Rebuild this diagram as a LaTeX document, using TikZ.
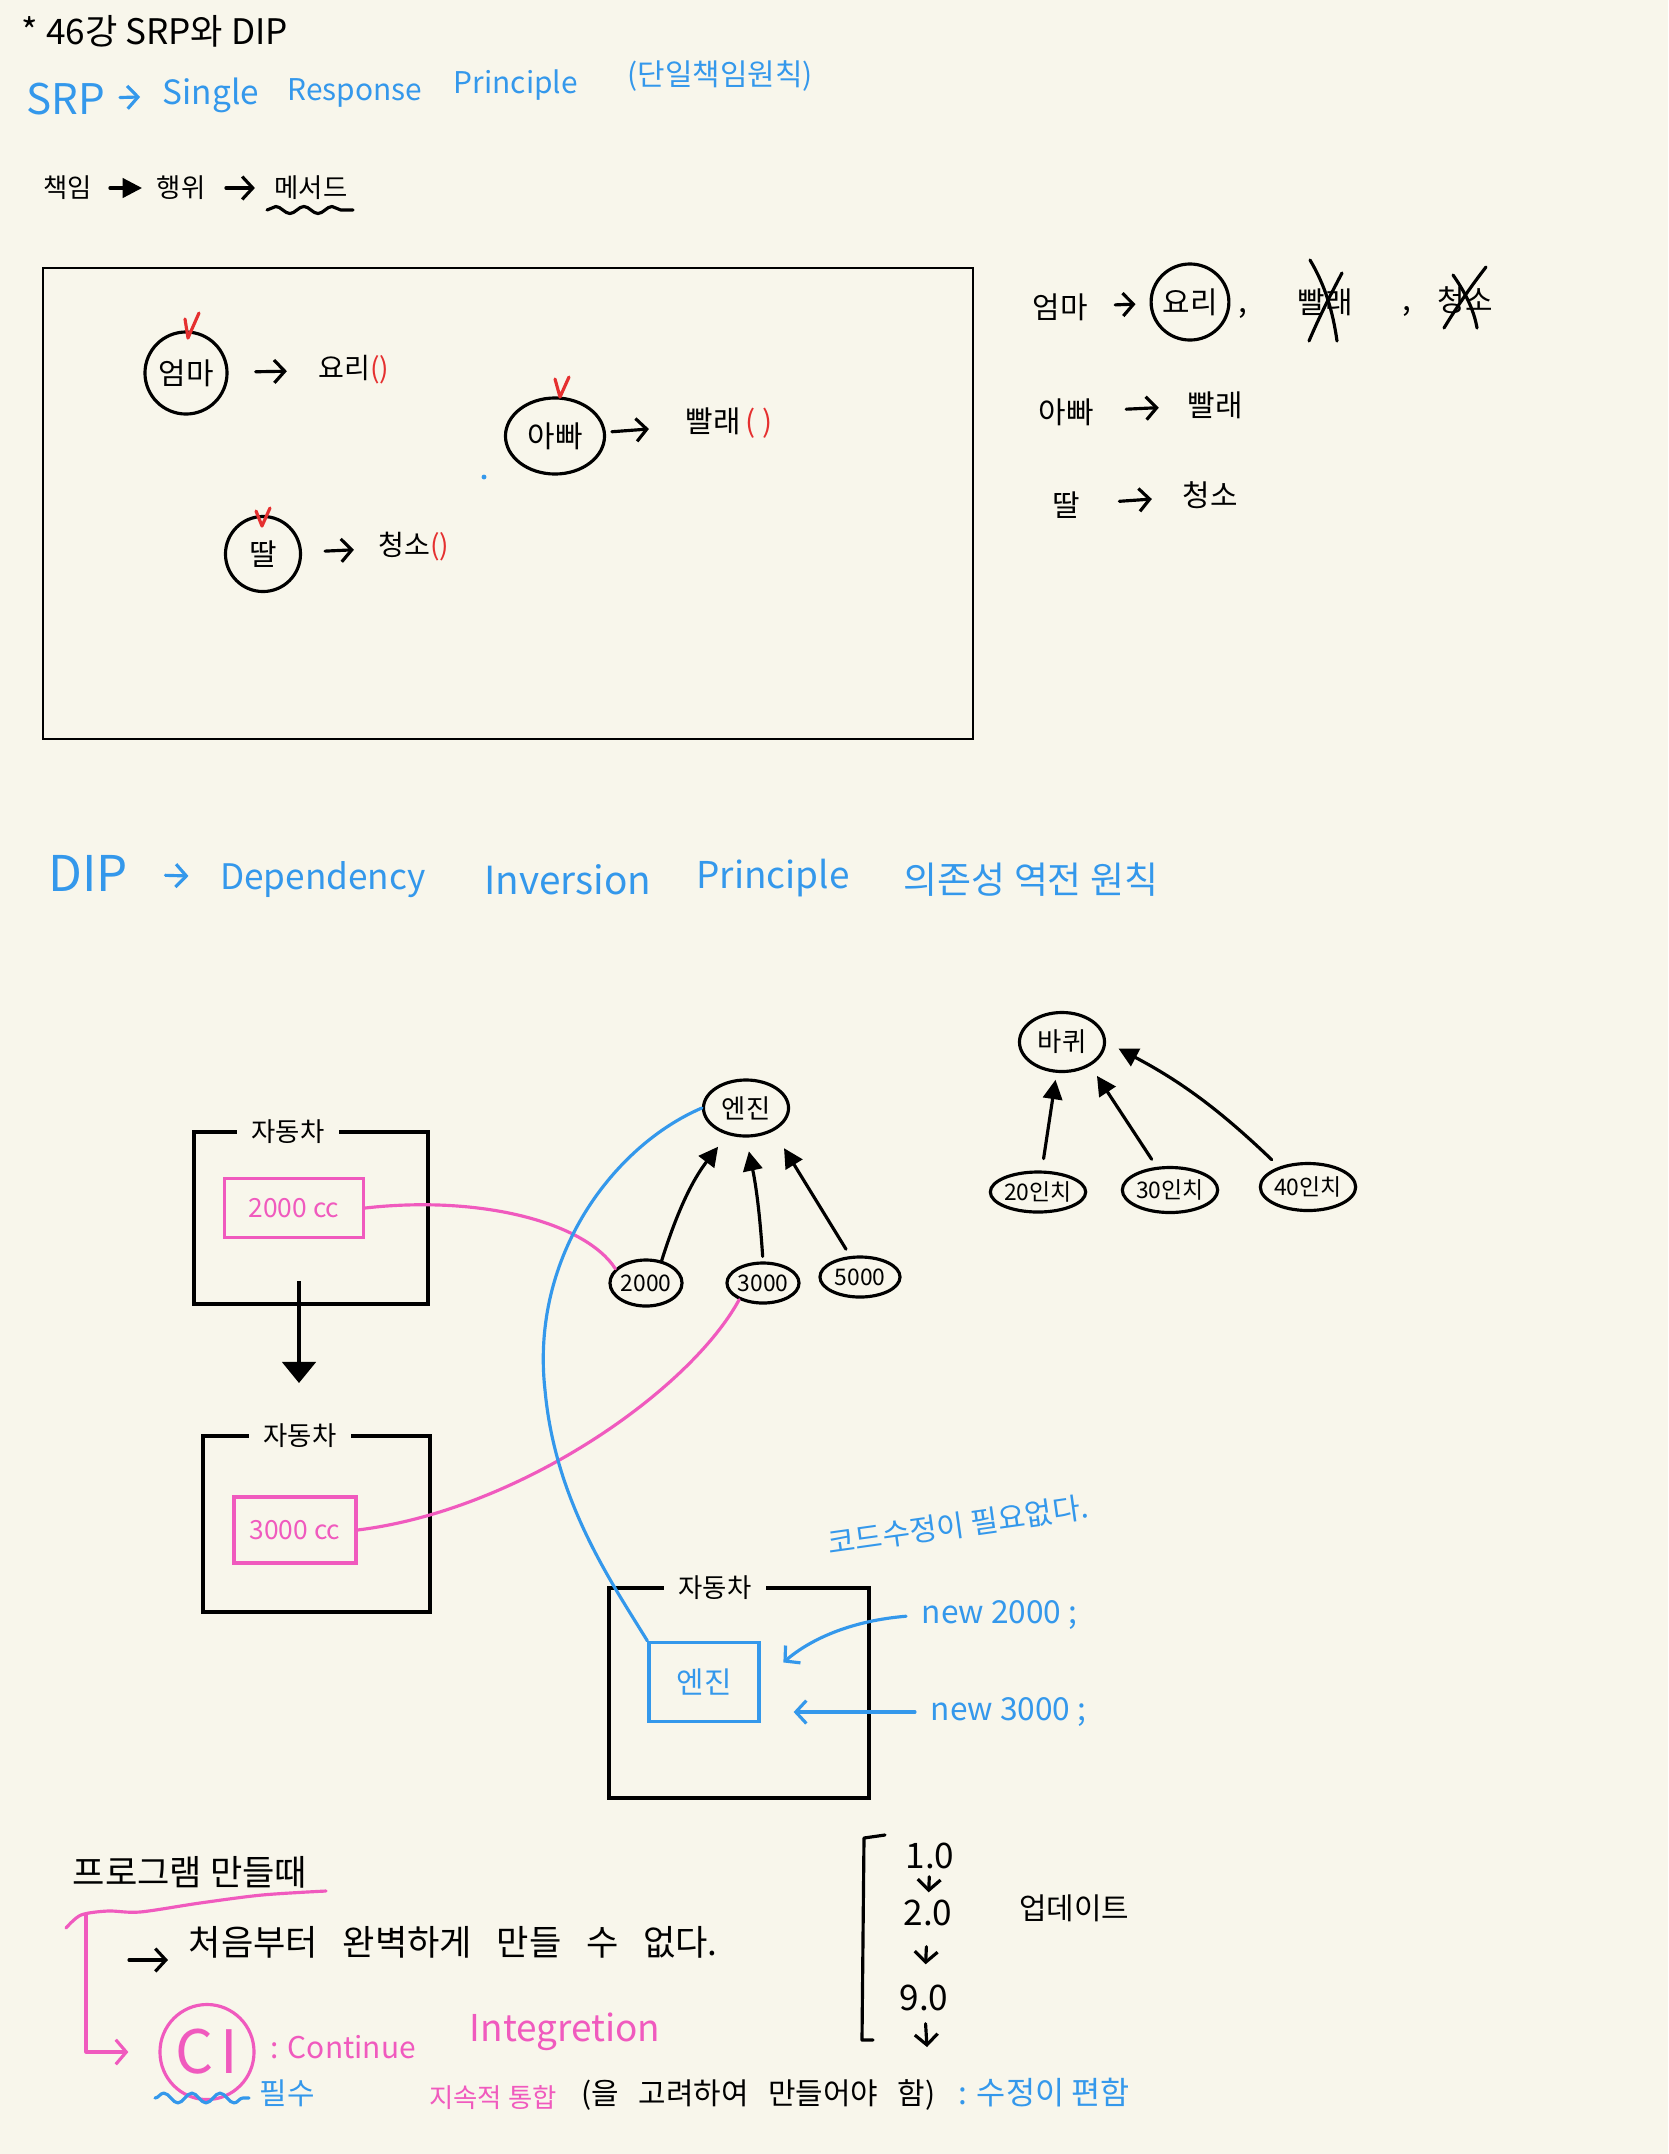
\documentclass[tikz,border=0pt]{standalone}
\usepackage{fontspec}
\setmainfont{Noto Sans CJK KR}
\setsansfont{Noto Sans CJK KR}
\usetikzlibrary{arrows.meta,shapes.geometric,decorations.pathmorphing}
\definecolor{paper}{HTML}{F8F6EB}
\definecolor{penblue}{HTML}{3498EB}
\definecolor{penpink}{HTML}{F05ABE}
\definecolor{penred}{HTML}{E53030}

\begin{document}
\begin{tikzpicture}[x=0.01cm, y=-0.01cm,
    txt/.style={inner sep=0pt, font=\fontsize{#1pt}{#1pt}\selectfont},
    txt/.default=9,
    pen/.style={line width=0.9pt, line cap=round, line join=round},
    ring/.style={ellipse, draw, line width=0.9pt, inner sep=0pt},
    barb/.style={pen, -{Straight Barb[length=3pt,width=6.5pt]}},
    tri/.style={pen, -{Triangle[length=5.5pt,width=5.5pt]}},
    carbox/.style={line width=1.1pt, line join=miter},
    pinkbox/.style={draw=penpink, line width=0.9pt, text=penpink},
    bluebox/.style={draw=penblue, line width=0.9pt, text=penblue},
    pinkline/.style={pen, draw=penpink},
    blueline/.style={pen, draw=penblue},
    check/.style={pen, draw=penred},
    wave/.style={pen, decorate, decoration={snake, amplitude=#1, segment length=8pt}},
    wave/.default=1pt,
  ]
    % paper and frame of the page
        \fill[paper] (0,0) rectangle (1668,2154);
        \useasboundingbox (0,0) rectangle (1668,2154);

    % First, the heading lines
        \node[txt=10, anchor=west] (title) at (21,31) {* 46강 SRP와 DIP};
        \node[txt=12, text=penblue] (srp) at (66,99) {SRP};
        \node[txt=9.5, text=penblue] (single) at (211,95) {Single};
        \node[txt=8.5, text=penblue] (resp) at (355,93) {Response};
        \node[txt=8.5, text=penblue] (princ) at (516,85) {Principle};
        \node[txt=8.5, text=penblue] (srpko) at (720,76) {(단일책임원칙)};
        \draw[barb, draw=penblue, shorten <=0.14cm, shorten >=0.22cm] (srp) -- (single);

        \node[txt=7.5] (duty) at (68,188) {책임};
        \node[txt=7.5] (act) at (181,188) {행위};
        \node[txt=7.5] (method) at (311,188) {메서드};
        \draw[tri, shorten <=0.17cm, shorten >=0.14cm] (duty) -- (act);
        \draw[barb, shorten <=0.2cm, shorten >=0.19cm] (act) -- (method);
        \draw[wave] (267,210) -- (353,210);

    % The SRP box and who does what
        \draw[line width=0.8pt] (43,268) rectangle (973,739);
        \node[ring, txt=8.5, minimum width=0.82cm, minimum height=0.82cm] (mom) at (186,373) {엄마};
        \node[ring, txt=8.5, minimum width=0.99cm, minimum height=0.76cm] (dad) at (555,436) {아빠};
        \node[ring, txt=8.5, minimum width=0.75cm, minimum height=0.75cm] (girl) at (263,554) {딸};
        \node[txt=8] (cook) at (354,370) {요리\textcolor{penred}{()}};
        \node[txt=8.5] (wash) at (729,423) {빨래\,\textcolor{penred}{( )}};
        \node[txt=8] (clean) at (414,547) {청소\textcolor{penred}{()}};
        \draw[barb, shorten <=0.27cm, shorten >=0.31cm] (mom) -- (cook);
        \draw[barb, shorten <=0.06cm, shorten >=0.36cm] (dad) -- (wash);
        \draw[barb, shorten <=0.23cm, shorten >=0.24cm] (girl) -- (clean);
        \draw[check] (185,319) -- (188,338) -- (199,313);
        \draw[check] (555,379) -- (560,397) -- (569,377);
        \draw[check] (256,511) -- (262,526) -- (270,508);
        \fill[penblue] (484,477) circle[radius=0.7pt];

    % The list on the right
        \node[txt=8.5] (mom2) at (1060,307) {엄마};
        \node[ring, txt=8.5, minimum width=0.75cm, minimum height=0.76cm] (cook2) at (1190,302) {요리};
        \node[txt=9] (comma1) at (1243,314) {,};
        \node[txt=8.5] (wash1) at (1325,302) {빨래};
        \node[txt=9] (comma2) at (1407,312) {,};
        \node[txt=8.5] (clean1) at (1465,300) {청소};
        \draw[barb, shorten <=0.27cm, shorten >=0.14cm] (mom2) -- (cook2);
        \draw[pen] (1309,341) .. controls (1320,315) and (1332,292) .. (1342,273);
        \draw[pen] (1310,260) .. controls (1325,285) and (1333,312) .. (1337,341);
        \draw[pen] (1444,328) .. controls (1458,305) and (1472,285) .. (1486,267);
        \draw[pen] (1453,275) .. controls (1465,292) and (1474,310) .. (1477,328);

        \node[txt=8.5] (dad2) at (1066,412) {아빠};
        \node[txt=8.5] (wash2) at (1215,405) {빨래};
        \draw[barb, shorten <=0.32cm, shorten >=0.28cm] (dad2) -- (wash2);
        \node[txt=8.5] (girl2) at (1066,505) {딸};
        \node[txt=8.5] (clean2) at (1210,495) {청소};
        \draw[barb, shorten <=0.39cm, shorten >=0.3cm] (girl2) -- (clean2);

    % DIP heading
        \node[txt=14, text=penblue] (dip) at (88,873) {DIP};
        \node[txt=10, text=penblue] (dep) at (323,880) {Dependency};
        \node[txt=11, text=penblue] (inv) at (568,880) {Inversion};
        \node[txt=10.5, text=penblue] (princ2) at (773,878) {Principle};
        \node[txt=10.5, text=penblue] (dipko) at (1031,880) {의존성 역전 원칙};
        \draw[barb, draw=penblue, shorten <=0.37cm, shorten >=0.31cm] (dip) -- (dep);

    % The cars
        \node[txt=7.5] (car1) at (288,1132) {자동차};
        \draw[carbox] ([xshift=-4pt]car1.west) -- (194,1132) -- (194,1304) -- (428,1304) -- (428,1132) -- ([xshift=4pt]car1.east);
        \node[pinkbox, txt=7.5, minimum width=1.39cm, minimum height=0.59cm] (cc2000) at (294,1208) {2000 cc};
        \coordinate (down1) at (299,1281);
        \coordinate (down2) at (299,1383);
        \draw[line width=1.1pt, -{Triangle[length=6pt,width=9.5pt]}] (down1) -- (down2);

        \node[txt=7.5] (car2) at (300,1436) {자동차};
        \draw[carbox] ([xshift=-4pt]car2.west) -- (203,1436) -- (203,1612) -- (430,1612) -- (430,1436) -- ([xshift=4pt]car2.east);
        \node[pinkbox, txt=7.5, minimum width=1.22cm, minimum height=0.66cm] (cc3000) at (295,1530) {3000 cc};

        \node[txt=7.5] (car3) at (715,1588) {자동차};
        \draw[carbox] ([xshift=-4pt]car3.west) -- (609,1588) -- (609,1798) -- (869,1798) -- (869,1588) -- ([xshift=4pt]car3.east);
        \node[bluebox, txt=8.5, minimum width=1.10cm, minimum height=0.79cm] (ebox) at (704,1682) {엔진};

    % engine and its kinds
        \node[ring, txt=7.5, minimum width=0.85cm, minimum height=0.56cm] (engine) at (746,1108) {엔진};
        \node[ring, txt=6.5, minimum width=0.72cm, minimum height=0.46cm] (e2000) at (646,1283) {2000};
        \node[ring, txt=6.5, minimum width=0.72cm, minimum height=0.40cm] (e3000) at (763,1283) {3000};
        \node[ring, txt=6.5, minimum width=0.80cm, minimum height=0.40cm] (e5000) at (860,1277) {5000};
        \draw[tri, shorten >=0.15cm] (e2000.55) to[bend left=10] (engine.235);
        \draw[tri, shorten <=0.05cm, shorten >=0.14cm] (e3000.north) to[bend right=4] (engine.south);
        \draw[tri, shorten <=0.08cm, shorten >=0.2cm] (e5000.115) -- (engine.320);

    % wheel and its kinds
        \node[ring, txt=7.5, minimum width=0.85cm, minimum height=0.59cm] (wheel) at (1062,1042) {바퀴};
        \node[ring, txt=6.5, minimum width=0.89cm, minimum height=0.40cm] (w20) at (1038,1192) {20인치};
        \node[ring, txt=6.5, minimum width=0.90cm, minimum height=0.45cm] (w30) at (1170,1190) {30인치};
        \node[ring, txt=6.5, minimum width=0.93cm, minimum height=0.47cm] (w40) at (1308,1187) {40인치};
        \draw[tri, shorten <=0.12cm, shorten >=0.07cm] (w20.80) -- (wheel.260);
        \draw[tri, shorten <=0.09cm, shorten >=0.12cm] (w30.120) -- (wheel.320);
        \draw[tri, shorten <=0.1cm, shorten >=0.14cm] (w40.145) to[bend right=8] (wheel.east);

    % Now draw the wires:
        \draw[pinkline] (cc2000.east) .. controls (480,1195) and (585,1222) .. (e2000.155);
        \draw[pinkline] (e3000.215) .. controls (690,1390) and (520,1510) .. (cc3000.east);
        \draw[blueline] (engine.west) .. controls (615,1145) and (530,1255) .. (545,1390)
            .. controls (555,1500) and (610,1580) .. (ebox.north west);

    % injecting the engine
        \node[txt=8.5, text=penblue, rotate=8] (nofix) at (958,1525) {코드수정이 필요없다.};
        \node[txt=9, text=penblue, anchor=west] (new2000) at (921,1615) {new 2000 ;};
        \node[txt=9, text=penblue, anchor=west] (new3000) at (930,1712) {new 3000 ;};
        \draw[barb, draw=penblue, shorten <=0.15cm, shorten >=0.3cm] (new2000.west) to[bend right=18] (ebox.east);
        \draw[barb, draw=penblue, shorten <=0.15cm, shorten >=0.33cm] (new3000.west) -- (ebox.east |- new3000.west);

    % making a program
        \node[txt=10] (prog) at (190,1872) {프로그램 만들때};
        \draw[pinkline] plot[smooth] coordinates {(66,1928) (81,1915) (108,1911) (140,1912) (200,1903) (262,1895) (326,1891)};
        \node[txt=10, anchor=west] (never) at (188,1942) {\spaceskip=0.7em\relax 처음부터 완벽하게 만들 수 없다.};
        \coordinate (nv0) at (129,1960);
        \draw[barb, shorten >=0.2cm] (nv0) -- (never.west |- nv0);

        \node[ring, draw=penpink, text=penpink, txt=17, minimum width=0.94cm, minimum height=0.95cm] (ci) at (207,2052) {C\kern2pt I};
        \coordinate (brk) at (86,1914);
        \draw[pinkline, -{Straight Barb[length=3pt,width=7pt]}, shorten >=0.3cm] (brk) |- (ci.west);
        \node[txt=8.5, text=penpink, anchor=west] (cont) at (270,2047) {: Continue};
        \node[txt=10.5, text=penpink] (integ) at (565,2032) {Integretion};
        \draw[wave=1.4pt, draw=penblue] (155,2098) -- (249,2098);
        \node[txt=8.5, text=penblue] (must) at (287,2093) {필수};
        \node[txt=7.5, text=penpink] (jisok) at (493,2097) {지속적 통합};
        \node[txt=8.5, anchor=west] (mind) at (581,2095) {\spaceskip=0.65em\relax (을 고려하여 만들어야 함)};
        \node[txt=9, text=penblue, anchor=west] (easy) at (958,2093) {: 수정이 편함};

    % versions
        \draw[pen] (885,1835) -- (864,1838) -- (862,2040) -- (873,2040);
        \node[txt=10] (v1) at (930,1856) {1.0};
        \node[txt=10] (v2) at (928,1913) {2.0};
        \node[txt=10] (v9) at (924,1998) {9.0};
        \coordinate (vend) at (927,2047);
        \node[txt=8.5] (update) at (1074,1908) {업데이트};
        \draw[barb, shorten <=2pt, shorten >=2pt] (v1) -- (v2);
        \draw[barb, shorten <=0.2cm, shorten >=0.2cm] (v2) -- (v9);
        \draw[barb, shorten <=0.12cm] (v9) -- (vend);
    \end{tikzpicture}
\end{document}
